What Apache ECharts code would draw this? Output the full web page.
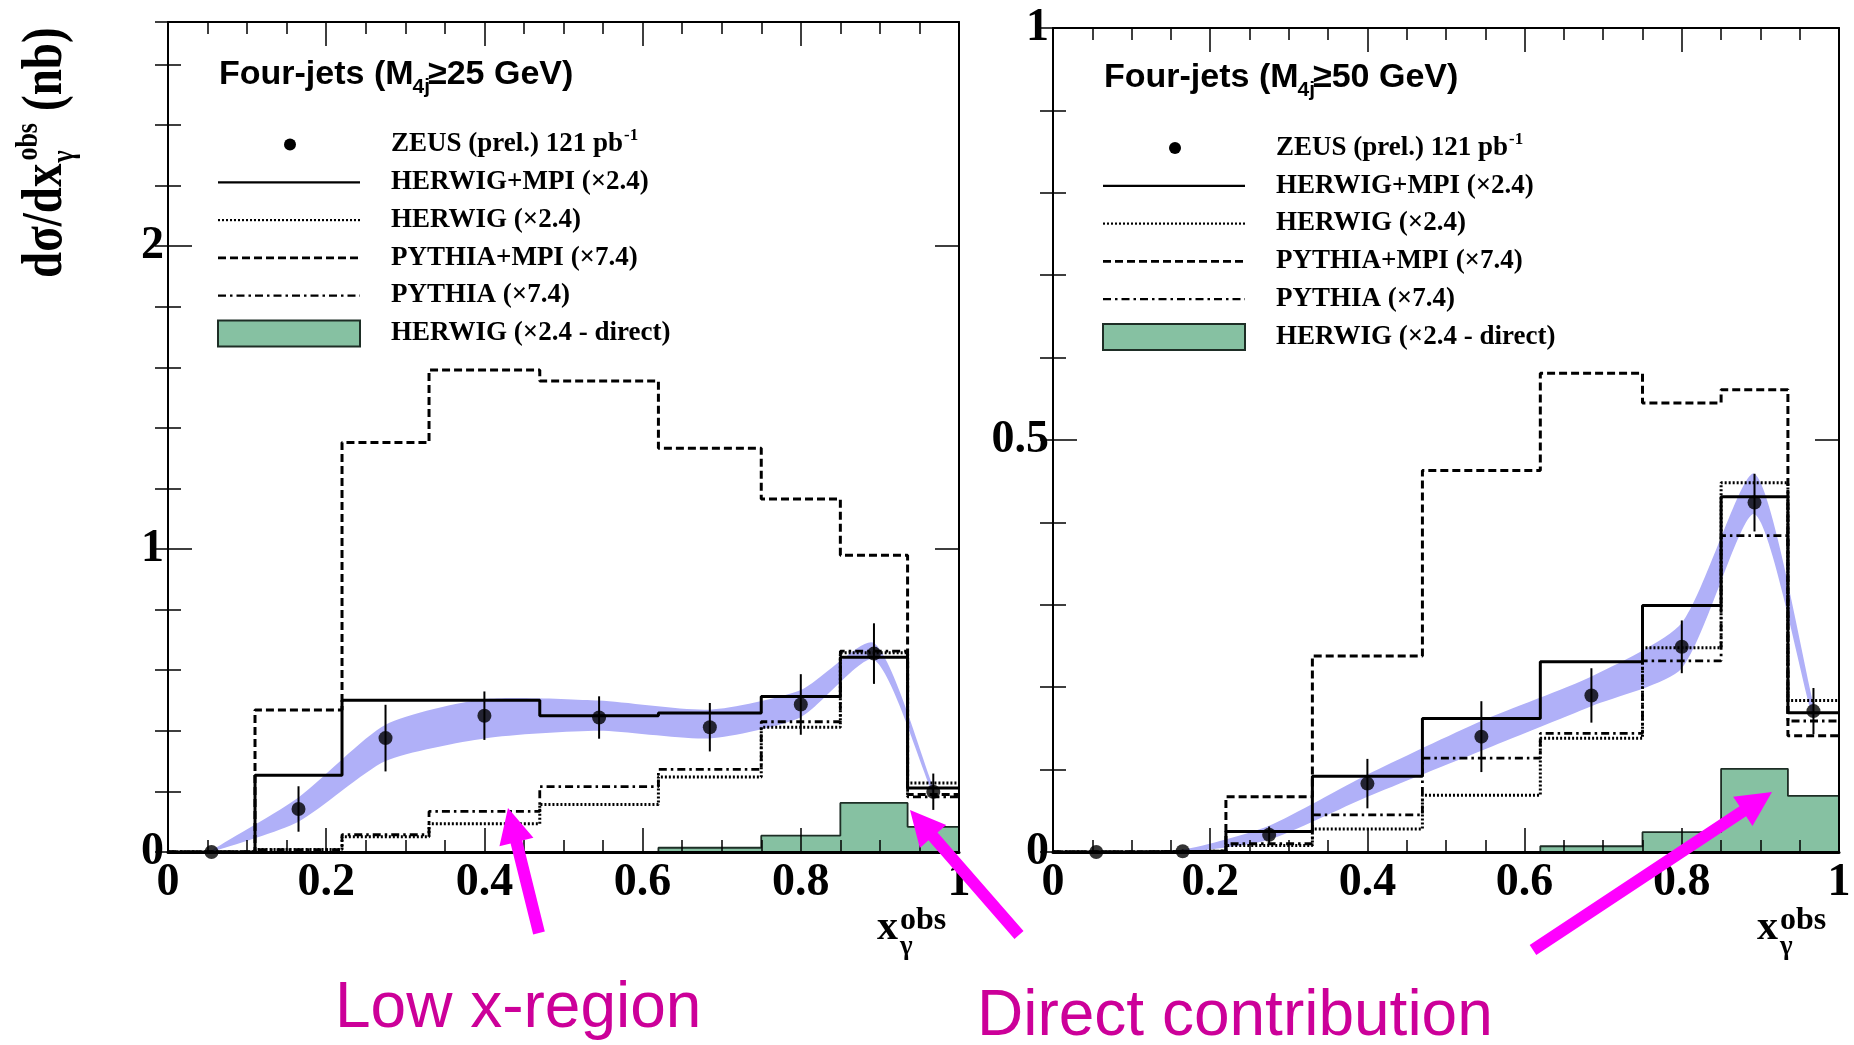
<!DOCTYPE html>
<html><head><meta charset="utf-8">
<script src="https://cdn.jsdelivr.net/npm/echarts@6/dist/echarts.min.js"></script>
<style>html,body{margin:0;padding:0;background:#fff}#c{width:1854px;height:1045px}</style>
</head><body><div id="c"></div>
<script>
// ---------------- data ----------------
const binEdges   = [0, 0.11, 0.22, 0.33, 0.47, 0.62, 0.75, 0.85, 0.935, 1.0];
const binCenters = [0.055, 0.165, 0.275, 0.40, 0.545, 0.685, 0.80, 0.8925, 0.9675];

// Four-jets, M4j >= 25 GeV
const zeus25      = [0.0, 0.142, 0.376, 0.45, 0.444, 0.412, 0.487, 0.655, 0.199];
const zeus25Err   = [0.005, 0.075, 0.11, 0.08, 0.07, 0.08, 0.10, 0.10, 0.06];
const herwigMpi25 = [0, 0.253, 0.501, 0.501, 0.45, 0.459, 0.513, 0.643, 0.211];
const herwig25    = [0, 0.008, 0.05, 0.093, 0.157, 0.248, 0.412, 0.658, 0.228];
const pythiaMpi25 = [0, 0.469, 1.352, 1.591, 1.555, 1.333, 1.165, 0.98, 0.19];
const pythia25    = [0, 0.008, 0.057, 0.134, 0.216, 0.273, 0.43, 0.663, 0.182];
const direct25    = [0, 0, 0, 0, 0, 0.014, 0.054, 0.162, 0.083];
const bandLow25   = [0.0, 0.10, 0.30, 0.375, 0.40, 0.375, 0.445, 0.635, 0.19];
const bandHigh25  = [0.005, 0.18, 0.42, 0.505, 0.50, 0.47, 0.535, 0.69, 0.215];

// Four-jets, M4j >= 50 GeV
const zeus50      = [0.0, 0.001, 0.021, 0.083, 0.14, 0.19, 0.249, 0.424, 0.171];
const zeus50Err   = [0.002, 0.002, 0.01, 0.03, 0.043, 0.033, 0.032, 0.035, 0.028];
const herwigMpi50 = [0, 0.001, 0.025, 0.092, 0.162, 0.231, 0.299, 0.431, 0.169];
const herwig50    = [0, 0.001, 0.008, 0.028, 0.069, 0.138, 0.248, 0.448, 0.184];
const pythiaMpi50 = [0, 0.001, 0.067, 0.238, 0.463, 0.581, 0.545, 0.561, 0.141];
const pythia50    = [0, 0.001, 0.01, 0.045, 0.114, 0.144, 0.232, 0.384, 0.159];
const direct50    = [0, 0, 0, 0, 0, 0.007, 0.024, 0.101, 0.068];
const bandLow50   = [0, 0, 0.015, 0.067, 0.123, 0.177, 0.223, 0.41, 0.16];
const bandHigh50  = [0, 0.003, 0.032, 0.094, 0.159, 0.213, 0.278, 0.459, 0.18];

const panelTitles = ['25', '50'];
const legendLabels = ['ZEUS (prel.) 121 pb', 'HERWIG+MPI (\u00d72.4)', 'HERWIG (\u00d72.4)',
                      'PYTHIA+MPI (\u00d77.4)', 'PYTHIA (\u00d77.4)', 'HERWIG (\u00d72.4 - direct)'];
const annotations = ['Low x-region', 'Direct contribution'];

// ---------------- layout / style ----------------
const BAND = '#b0b0f8', GREEN = '#86c1a2', MAG = '#ff00ff', MAGTXT = '#cc0099';
const SERIF = '"Liberation Serif", "DejaVu Serif", serif';
const SANS = '"Liberation Sans", Arial, sans-serif';
const DOT = [2, 2], DASH = [8, 4], DASHDOT = [8, 4, 2.5, 4];

const panels = [
  {left:168, top:22, width:791, height:830, ymax:2.74, yInt:1, yMinor:0.2, titleBase:87, legY:144.5,
   zeus:zeus25, err:zeus25Err, hm:herwigMpi25, h:herwig25, pm:pythiaMpi25, p:pythia25,
   dir:direct25, bl:bandLow25, bh:bandHigh25},
  {left:1053, top:28, width:786, height:824, ymax:1, yInt:0.5, yMinor:0.1, titleBase:90, legY:148,
   zeus:zeus50, err:zeus50Err, hm:herwigMpi50, h:herwig50, pm:pythiaMpi50, p:pythia50,
   dir:direct50, bl:bandLow50, bh:bandHigh50}
];

const mctx = document.createElement('canvas').getContext('2d');
function tw(t, font){ mctx.font = font; return mctx.measureText(t).width; }
function txt(t, x, base, size, family, weight, fill, k){
  const font = (weight||'normal') + ' ' + size + 'px ' + family;
  return {type:'text', z:100, style:{text:t, x:x, y: base - (k==null?0.34:k)*size, font:font,
          fill: fill||'#000', textAlign:'left', textVerticalAlign:'middle'}};
}
function histData(vals){
  const d = vals.map((v,i)=>[binEdges[i], v]);
  d.push([binEdges[binEdges.length-1], vals[vals.length-1]]);
  return d;
}

const grids = [], xAxes = [], yAxes = [], series = [], graphics = [];
const tickStyle = {color:'#000', width:1.5};
panels.forEach((P, k) => {
  grids.push({left:P.left, top:P.top, width:P.width, height:P.height, show:false});
  const xb = {gridIndex:k, type:'value', min:0, max:1, interval:0.2, position:'bottom', z:10,
    axisLine:{show:true, onZero:false, lineStyle:{color:'#000', width:3}},
    axisTick:{show:true, inside:true, length:24, lineStyle:tickStyle},
    minorTick:{show:true, splitNumber:4, length:12, lineStyle:tickStyle},
    splitLine:{show:false}, minorSplitLine:{show:false},
    axisLabel:{show:true, margin:8, fontFamily:SERIF, fontWeight:'bold', fontSize:46, color:'#000'}};
  const xt = Object.assign({}, xb, {position:'top', axisLabel:{show:false},
    axisLine:{show:true, onZero:false, lineStyle:{color:'#000', width:2}}});
  xAxes.push(xb, xt);
  const yMaj = (pos, lab) => ({gridIndex:k, type:'value', min:0, max:P.ymax, interval:P.yInt, position:pos, z:10,
    axisLine:{show:true, onZero:false, lineStyle:{color:'#000', width:2}},
    axisTick:{show:true, inside:true, length:24, lineStyle:tickStyle},
    splitLine:{show:false},
    axisLabel:{show:lab, margin:4, showMaxLabel: P.ymax % P.yInt === 0, fontFamily:SERIF, fontWeight:'bold', fontSize:46, color:'#000'}});
  const yMin = (pos) => ({gridIndex:k, type:'value', min:0, max:P.ymax, interval:P.yMinor, position:pos, z:10,
    axisLine:{show:false}, axisTick:{show:true, inside:true, length:13, lineStyle:tickStyle},
    splitLine:{show:false}, axisLabel:{show:false}});
  yAxes.push(yMaj('left', true), yMin('left'), yMaj('right', false), yMin('right'));
  const xi = 2*k, yi = 4*k;
  const base = {xAxisIndex:xi, yAxisIndex:yi, symbol:'none', animation:false, silent:true};
  // uncertainty band: one smoothed polygon through the upper and lower edges
  series.push({type:'custom', xAxisIndex:xi, yAxisIndex:yi, z:1, silent:true, animation:false,
    data:[[binCenters[0], P.bl[0]]],
    renderItem:(params, api)=>{
      const up = binCenters.map((x,i)=>api.coord([x, P.bh[i]]));
      const lo = binCenters.map((x,i)=>api.coord([x, P.bl[i]])).reverse();
      return {type:'polygon', shape:{points: up.concat(lo), smooth:0.22}, style:{fill:BAND}};
    }});
  // direct contribution
  series.push(Object.assign({}, base, {type:'line', z:3, step:'end', data:histData(P.dir),
    lineStyle:{color:'#1e2e26', width:1.8}, areaStyle:{color:GREEN, opacity:1}}));
  // MC histograms
  const hist = (vals, type, w) => Object.assign({}, base, {type:'line', z:4, step:'end', data:histData(vals),
    lineStyle:{color:'#000', width:w, type:type}});
  series.push(hist(P.pm, DASH, 3), hist(P.p, DASHDOT, 2.8), hist(P.h, DOT, 3), hist(P.hm, 'solid', 3));
  // data error bars
  series.push({type:'custom', xAxisIndex:xi, yAxisIndex:yi, z:5, silent:true, animation:false,
    data: binCenters.map((x,i)=>[x, P.zeus[i]-P.err[i], P.zeus[i]+P.err[i]]),
    encode:{x:0, y:[1,2]},
    renderItem:(params, api)=>{
      const a = api.coord([api.value(0), api.value(1)]);
      const b = api.coord([api.value(0), api.value(2)]);
      return {type:'line', shape:{x1:a[0], y1:a[1], x2:b[0], y2:b[1]}, style:{stroke:'#000', lineWidth:2}};
    }});
  series.push({type:'scatter', xAxisIndex:xi, yAxisIndex:yi, z:6, silent:true, animation:false,
    symbol:'circle', symbolSize:14, itemStyle:{color:'#000'},
    data: binCenters.map((x,i)=>[x, P.zeus[i]])});

  // ---------- legend (drawn as graphics) ----------
  const fx = P.left;
  const tF = 34, tS = 21;
  const ftB = 'bold ' + tF + 'px ' + SANS, fsB = 'bold ' + tS + 'px ' + SANS;
  const t1 = 'Four-jets (M', t2 = '4j', t3 = '\u2265' + panelTitles[k] + ' GeV)';
  let cx = fx + 51; const tb = P.titleBase;
  graphics.push(txt(t1, cx, tb, tF, SANS, 'bold', '#000', 0.35));
  cx += tw(t1, ftB) - 1;
  graphics.push(txt(t2, cx, tb + 8, tS, SANS, 'bold', '#000', 0.35));
  cx += tw(t2, fsB) - 2;
  graphics.push(txt(t3, cx, tb, tF, SANS, 'bold', '#000', 0.35));

  const lx0 = fx + 50, lx1 = fx + 192, ltx = fx + 223, LF = 27;
  legendLabels.forEach((lab, i) => {
    const ry = P.legY + i * 37.8;
    graphics.push(txt(lab, ltx, ry + 9, LF, SERIF, 'bold'));
    if (i === 0) {
      const w = tw(lab, 'bold ' + LF + 'px ' + SERIF);
      graphics.push(txt('-1', ltx + w + 1, ry - 3, 17, SERIF, 'bold'));
      graphics.push({type:'circle', z:100, shape:{cx:fx + 122, cy:ry, r:6}, style:{fill:'#000'}});
    } else if (i === 5) {
      graphics.push({type:'rect', z:100, shape:{x:lx0, y:ry - 13, width:lx1 - lx0, height:26},
        style:{fill:GREEN, stroke:'#1e2e26', lineWidth:2}});
    } else {
      const dash = [null, null, DOT, DASH, DASHDOT][i];
      graphics.push({type:'line', z:100, shape:{x1:lx0, y1:ry, x2:lx1, y2:ry},
        style:{stroke:'#000', lineWidth: i === 3 ? 2.8 : 2.2, lineDash: dash || null}});
    }
  });

  // ---------- x axis title ----------
  const ax = fx + P.width - 82;
  graphics.push(txt('x', ax, 942, 42, SERIF, 'bold'));
  graphics.push(txt('obs', ax + 23, 932, 32, SERIF, 'bold'));
  graphics.push(txt('\u03b3', ax + 23, 956, 27, SERIF, 'bold'));
});

// ---------- y axis title (rotated) ----------
(function(){
  const big = 47, small = 26;
  const fb = 'bold ' + big + 'px ' + SERIF, fs = 'bold ' + small + 'px ' + SERIF;
  const p1 = 'd\u03c3/dx', w1 = tw(p1, fb);
  const wObs = tw('obs', fs);
  const kids = [];
  const t = (s, x, base, size) => ({type:'text', style:{text:s, x:x, y:base - 0.34*size,
      font:'bold ' + size + 'px ' + SERIF, fill:'#000', textAlign:'left', textVerticalAlign:'middle'}});
  kids.push(t(p1, 0, 0, big));
  kids.push(t('\u03b3', w1 + 1, 8, small));
  kids.push(t('obs', w1 + 3, -22, small));
  kids.push(t('(nb)', w1 + 3 + wObs + 12, 0, big));
  graphics.push({type:'group', x:66, y:278, rotation:Math.PI/2, scaleX:1, scaleY:1.2, z:100, children:kids});
})();

// ---------- annotations ----------
function arrow(tail, tip){
  const shaftW = 12, headL = 35, headHW = 17.5;
  const dx = tip[0]-tail[0], dy = tip[1]-tail[1], L = Math.hypot(dx, dy);
  const ux = dx/L, uy = dy/L, nx = -uy, ny = ux, s = shaftW/2;
  const bx = tip[0]-ux*headL, by = tip[1]-uy*headL;
  return {type:'polygon', z:110, shape:{points:[
    [tail[0]+nx*s, tail[1]+ny*s], [bx+nx*s, by+ny*s], [bx+nx*headHW, by+ny*headHW], tip,
    [bx-nx*headHW, by-ny*headHW], [bx-nx*s, by-ny*s], [tail[0]-nx*s, tail[1]-ny*s]]},
    style:{fill:MAG}};
}
graphics.push(arrow([539, 933], [508, 808]));
graphics.push(arrow([1019, 935], [910, 810]));
graphics.push(arrow([1533, 950], [1772, 792]));
graphics.push(txt(annotations[0], 335, 1032, 64, SANS, 'normal', MAGTXT, 0.35));
graphics.push(txt(annotations[1], 977, 1040, 64, SANS, 'normal', MAGTXT, 0.35));

const chart = echarts.init(document.getElementById('c'), null, {renderer:'canvas', width:1854, height:1045});
chart.setOption({
  animation:false, backgroundColor:'#fff',
  grid:grids, xAxis:xAxes, yAxis:yAxes, series:series, graphic:{elements:graphics}
});
</script>
</body></html>
